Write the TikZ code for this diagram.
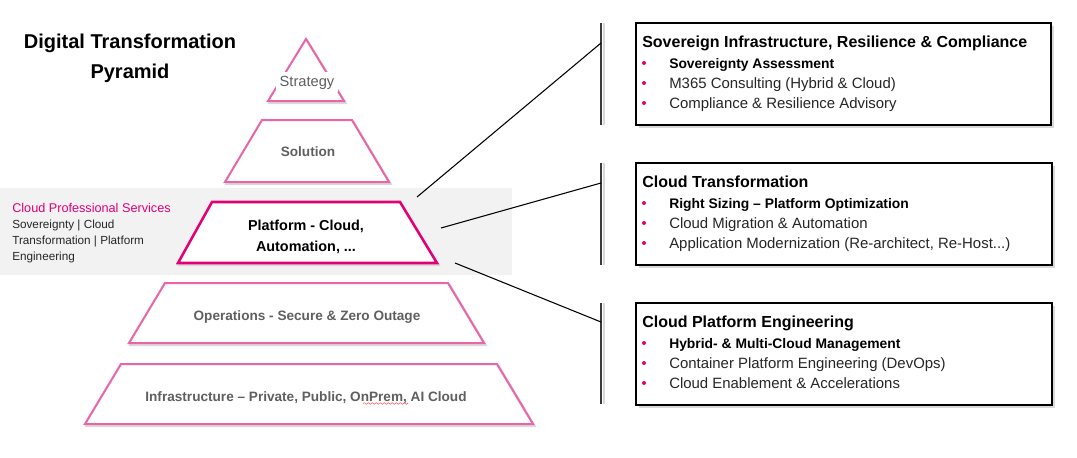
\documentclass[tikz,border=0pt]{standalone}
\usepackage{fontspec}
\setmainfont{Liberation Sans}
\usetikzlibrary{decorations.pathmorphing}
\definecolor{tmag}{HTML}{E20074}
\definecolor{tpink}{HTML}{EA64A8}
\definecolor{tgray}{HTML}{5F5F5F}
\definecolor{tband}{HTML}{F2F2F2}
\definecolor{tbar}{HTML}{3A3A3A}
\definecolor{tshade}{HTML}{D9D9D9}
\definecolor{tdark}{HTML}{262626}
\begin{document}
\begin{tikzpicture}[x=0.75pt,y=-0.75pt,
  layer/.style={draw=tpink,line width=1.5pt,fill=white,line join=miter},
  hilayer/.style={draw=tmag,line width=1.9pt,fill=white,line join=miter},
  shadowline/.style={draw=tshade,line width=1.8pt,line join=miter},
  lbl/.style={inner sep=0pt,anchor=base,text=tgray,font=\fontsize{10.2}{12}\selectfont\bfseries},
  txt/.style={inner sep=0pt,anchor=base west},
  boxtitle/.style={txt,font=\fontsize{12}{14}\selectfont\bfseries},
  itemb/.style={txt,font=\fontsize{10.4}{12}\selectfont\bfseries},
  itemr/.style={txt,text=tdark,font=\fontsize{11.2}{13}\selectfont},
  infobox/.style={draw=black,line width=0.9pt,fill=white},
  vbar/.style={draw=tbar,line width=1.9pt},
  conn/.style={draw=black,line width=0.8pt},
  dot/.style={fill=tmag}]
\useasboundingbox (0,0) rectangle (1077,457);

% title
\node[inner sep=0pt,anchor=base,font=\fontsize{15}{18}\selectfont\bfseries] (t1) at (130,48) {Digital Transformation};
\node[inner sep=0pt,anchor=base,font=\fontsize{15}{18}\selectfont\bfseries] (t2) at (130,78) {Pyramid};

% gray band
\fill[tband] (0,188) rectangle (512,275);

% shadows of pyramid layers
\begin{scope}[shift={(1.5,2)}]
\draw[shadowline] (306,39) -- (344,101) -- (268,101) -- cycle;
\draw[shadowline] (262,120) -- (352,120) -- (389,182) -- (225,182) -- cycle;
\draw[shadowline] (212,202) -- (400,202) -- (437,263) -- (178,263) -- cycle;
\draw[shadowline] (165,283) -- (448,283) -- (484,343) -- (129,343) -- cycle;
\draw[shadowline] (121,364) -- (497,364) -- (533,424) -- (85,424) -- cycle;
\end{scope}

% pyramid layers
\draw[layer] (306,39) -- (344,101) -- (268,101) -- cycle;
\draw[layer] (262,120) -- (352,120) -- (389,182) -- (225,182) -- cycle;
\draw[hilayer] (212,202) -- (400,202) -- (437,263) -- (178,263) -- cycle;
\draw[layer] (165,283) -- (448,283) -- (484,343) -- (129,343) -- cycle;
\draw[layer] (121,364) -- (497,364) -- (533,424) -- (85,424) -- cycle;

% pyramid labels
\node[lbl,fill=white,inner xsep=2.5pt,inner ysep=2.5pt,font=\fontsize{11}{13}\selectfont,text=tgray] (strategy) at (307,86) {Strategy};
\node[lbl] (solution) at (308,156) {Solution};
\node[lbl,text=black,font=\fontsize{10.8}{13}\selectfont\bfseries] (plat1) at (306,230) {Platform - Cloud,};
\node[lbl,text=black,font=\fontsize{10.8}{13}\selectfont\bfseries] (plat2) at (306,251) {Automation, ...};
\node[lbl] (ops) at (307,320) {Operations - Secure \& Zero Outage};
\node[lbl] (infra) at (306,401) {Infrastructure – Private, Public, OnPrem, AI Cloud};
\draw[red!70,line width=0.4pt,decorate,decoration={snake,amplitude=0.6pt,segment length=3pt}] (363,403.5) -- (408,403.5);

% cloud professional services
\node[txt,text=tmag,font=\fontsize{9.5}{11}\selectfont] (cps) at (12,212) {Cloud Professional Services};
\node[txt,text=tdark,font=\fontsize{8.8}{10}\selectfont] (cps1) at (12,228) {Sovereignty | Cloud};
\node[txt,text=tdark,font=\fontsize{8.8}{10}\selectfont] (cps2) at (12,244) {Transformation | Platform};
\node[txt,text=tdark,font=\fontsize{8.8}{10}\selectfont] (cps3) at (12,260) {Engineering};

% connectors
\coordinate (s1) at (417,197);
\coordinate (s2) at (441,228);
\coordinate (s3) at (455,263);
\coordinate (e1) at (601,43);
\coordinate (e2) at (601,183);
\coordinate (e3) at (601,322);
\coordinate (b1t) at (601,23);  \coordinate (b1b) at (601,125);
\coordinate (b2t) at (601,163); \coordinate (b2b) at (601,265);
\coordinate (b3t) at (601,303); \coordinate (b3b) at (601,404);
\draw[tshade,line width=1.6pt] ([xshift=2.2pt]b1t) -- ([xshift=2.2pt]b1b);
\draw[tshade,line width=1.6pt] ([xshift=2.2pt]b2t) -- ([xshift=2.2pt]b2b);
\draw[tshade,line width=1.6pt] ([xshift=2.2pt]b3t) -- ([xshift=2.2pt]b3b);
\draw[vbar] (b1t) -- (b1b);
\draw[vbar] (b2t) -- (b2b);
\draw[vbar] (b3t) -- (b3b);
\draw[conn] (s1) -- (e1);
\draw[conn] (s2) -- (e2);
\draw[conn] (s3) -- (e3);

% boxes
\fill[tshade] (638.5,25.5) rectangle (1053.5,127.5);
\fill[tshade] (638.5,165.5) rectangle (1054.5,267.5);
\fill[tshade] (638.5,305.5) rectangle (1054.5,407.5);
\draw[infobox] (636,23) rectangle (1051,125);
\draw[infobox] (636,163) rectangle (1052,265);
\draw[infobox] (636,303) rectangle (1052,405);

% box 1
\node[boxtitle] (h1) at (642,47) {Sovereign Infrastructure, Resilience \& Compliance};
\fill[dot] (644,63) circle[radius=1.5pt];
\fill[dot] (644,83) circle[radius=1.5pt];
\fill[dot] (644,103) circle[radius=1.5pt];
\node[itemb] (i11) at (669,68) {Sovereignty Assessment};
\node[itemr] (i12) at (669,88) {M365 Consulting (Hybrid \& Cloud)};
\node[itemr] (i13) at (669,108) {Compliance \& Resilience Advisory};

% box 2
\node[boxtitle] (h2) at (642,187) {Cloud Transformation};
\fill[dot] (644,203) circle[radius=1.5pt];
\fill[dot] (644,223) circle[radius=1.5pt];
\fill[dot] (644,243) circle[radius=1.5pt];
\node[itemb] (i21) at (669,208) {Right Sizing – Platform Optimization};
\node[itemr] (i22) at (669,228) {Cloud Migration \& Automation};
\node[itemr] (i23) at (669,248) {Application Modernization (Re-architect, Re-Host...)};

% box 3
\node[boxtitle] (h3) at (642,327) {Cloud Platform Engineering};
\fill[dot] (644,343) circle[radius=1.5pt];
\fill[dot] (644,363) circle[radius=1.5pt];
\fill[dot] (644,383) circle[radius=1.5pt];
\node[itemb] (i31) at (669,348) {Hybrid- \& Multi-Cloud Management};
\node[itemr] (i32) at (669,368) {Container Platform Engineering (DevOps)};
\node[itemr] (i33) at (669,388) {Cloud Enablement \& Accelerations};
\end{tikzpicture}
\end{document}
